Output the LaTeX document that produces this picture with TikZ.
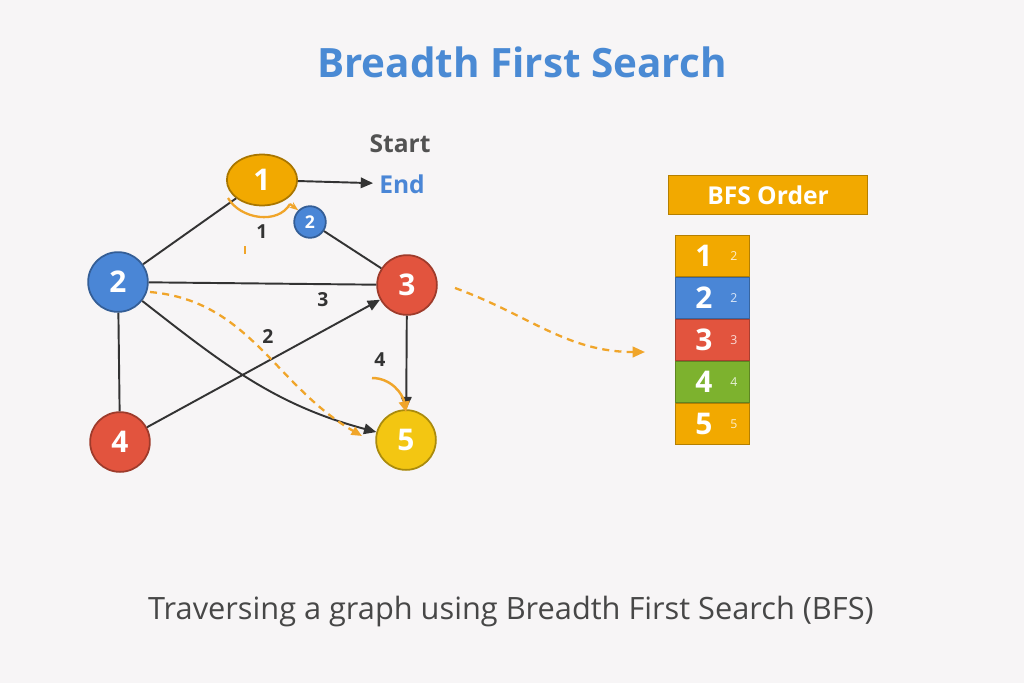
\documentclass[tikz,border=0pt]{standalone}
\usepackage{fontspec}
\setmainfont{Open Sans}
\usetikzlibrary{arrows.meta,shapes.geometric}
\definecolor{bg}{HTML}{F7F5F6}
\definecolor{ttl}{HTML}{4A8AD4}
\definecolor{yel}{HTML}{F2A900}
\definecolor{yel2}{HTML}{F3C612}
\definecolor{blu}{HTML}{4A86D6}
\definecolor{red}{HTML}{E2543E}
\definecolor{grn}{HTML}{7DB22E}
\definecolor{edg}{HTML}{333333}
\definecolor{orng}{HTML}{F0A52A}
\begin{document}
\begin{tikzpicture}[x=0.02cm,y=-0.02cm,
 vert/.style={circle,draw=#1!70!black,line width=1pt,fill=#1,text=white,minimum size=34pt,inner sep=0pt,font=\fontsize{17}{17}\selectfont\bfseries},
 edge/.style={draw=edg,line width=1.1pt},
 arr/.style={edge,-{Triangle[length=7pt,width=6pt]}},
 dsh/.style={draw=orng,line width=1.3pt,dash pattern=on 4pt off 3pt},
 lab/.style={text=edg,font=\fontsize{11}{11}\selectfont\bfseries},
 cell/.style={draw=#1!75!black,fill=#1,minimum width=42pt,minimum height=23pt,inner sep=0pt,text=white},
]
\fill[bg] (0,0) rectangle (1024,683);
\useasboundingbox (0,0) rectangle (1024,683);
\node[text=ttl,font=\fontsize{23}{23}\selectfont\bfseries] (title) at (522,62) {Breadth First Search};
\node[vert=yel,ellipse,minimum width=40pt,minimum height=29pt] (n1) at (262,180) {1};
\node[vert=blu,minimum size=18pt,font=\fontsize{10}{10}\selectfont\bfseries] (s2) at (310,222) {2};
\node[vert=blu] (n2) at (118,282) {2};
\node[vert=red] (n3) at (407,285) {3};
\node[vert=red] (n4) at (120,442) {4};
\node[vert=yel2] (n5) at (406,440) {5};
\node[text=edg!85,font=\fontsize{14}{14}\selectfont\bfseries] (start) at (400,144) {Start};
\node[text=blu,font=\fontsize{14}{14}\selectfont\bfseries] (end) at (402,184) {End};
\draw[arr] (n1) -- (end);
\draw[edge] (n1) -- (n2);
\draw[edge] (s2) -- (n3);
\draw[edge] (n2) -- (n3);
\draw[edge] (n2) -- (n4);
\draw[arr] (n2) to[out=-38,in=165] (n5);
\draw[arr] (n4) -- (n3);
\draw[arr] (n3) -- (n5);
\draw[draw=orng,line width=1.3pt] (228,198) to[out=-60,in=-120] (290,204);
\draw[orng,line width=1.3pt,-{Stealth[length=5pt]}] (290,204) -- (s2.north west);
\draw[orng,line width=1.2pt] (245,246) -- (245,254);
\draw[dsh,-{Triangle[length=6pt,width=5pt]},orng] (150,292) to[out=-5,in=150] (362,436);
\coordinate (q) at (645,352);
\draw[dsh,-{Triangle[length=7pt,width=6pt]},orng] (455,288) to[out=-20,in=180] (q);
\draw[orng,line width=1.4pt,-{Triangle[length=6pt,width=6pt]}] (372,378) to[out=0,in=100] (406,412);
\node[lab] (l1) at (262,232) {1};
\node[lab] (l3) at (323,300) {3};
\node[lab] (l2) at (268,336) {2};
\node[lab] (l4) at (380,360) {4};
\node[draw=yel!75!black,fill=yel,text=white,minimum width=113pt,minimum height=22pt,inner sep=0pt,font=\fontsize{14}{14}\selectfont\bfseries] (bfs) at (768,195) {BFS Order};
\foreach \i/\c/\y in {1/yel/256,2/blu/298,3/red/340,4/grn/382,5/yel/424}{
 \node[cell=\c] (c\i) at (712.5,\y) {};
 \node[text=white,font=\fontsize{17}{17}\selectfont\bfseries] (d\i) at (704,\y) {\i};
 \node[text=white!80!\c,font=\fontsize{7}{7}\selectfont] (e\i) at (734,\y) {\ifnum\i=1 2\else\i\fi};
}
\node[text=edg!90,font=\fontsize{17.5}{17.5}\selectfont] (cap) at (511,612) {Traversing a graph using Breadth First Search (BFS)};
\end{tikzpicture}
\end{document}
